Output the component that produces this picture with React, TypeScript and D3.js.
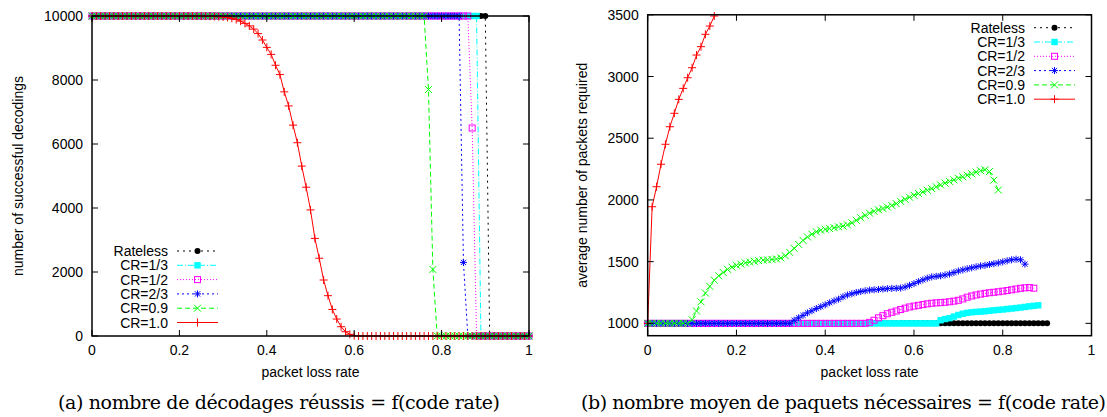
import React from 'react';
import * as d3 from 'd3';

// ---------- categories ----------
const lossRate = [
  0, 0.01, 0.02, 0.03, 0.04, 0.05, 0.06, 0.07, 0.08, 0.09,
  0.1, 0.11, 0.12, 0.13, 0.14, 0.15, 0.16, 0.17, 0.18, 0.19,
  0.2, 0.21, 0.22, 0.23, 0.24, 0.25, 0.26, 0.27, 0.28, 0.29,
  0.3, 0.31, 0.32, 0.33, 0.34, 0.35, 0.36, 0.37, 0.38, 0.39,
  0.4, 0.41, 0.42, 0.43, 0.44, 0.45, 0.46, 0.47, 0.48, 0.49,
  0.5, 0.51, 0.52, 0.53, 0.54, 0.55, 0.56, 0.57, 0.58, 0.59,
  0.6, 0.61, 0.62, 0.63, 0.64, 0.65, 0.66, 0.67, 0.68, 0.69,
  0.7, 0.71, 0.72, 0.73, 0.74, 0.75, 0.76, 0.77, 0.78, 0.79,
  0.8, 0.81, 0.82, 0.83, 0.84, 0.85, 0.86, 0.87, 0.88, 0.89,
  0.9, 0.91, 0.92, 0.93, 0.94, 0.95, 0.96, 0.97, 0.98, 0.99,
  1.0,
];

const seriesNames = ['Rateless', 'CR=1/3', 'CR=1/2', 'CR=2/3', 'CR=0.9', 'CR=1.0'];
const seriesColors = ['#000000', '#00ffff', '#ff00ff', '#0000ff', '#00ff00', '#ff0000'];
const seriesDash = ['2,4', '6,2,1,2', '1,2', '2,3', '5,3', ''];
const seriesMarker = ['circle', 'fsquare', 'osquare', 'star', 'x', 'plus'];

// ---------- (a) number of successful decodings ----------
const decRateless = [
  10000, 10000, 10000, 10000, 10000, 10000, 10000, 10000, 10000, 10000,
  10000, 10000, 10000, 10000, 10000, 10000, 10000, 10000, 10000, 10000,
  10000, 10000, 10000, 10000, 10000, 10000, 10000, 10000, 10000, 10000,
  10000, 10000, 10000, 10000, 10000, 10000, 10000, 10000, 10000, 10000,
  10000, 10000, 10000, 10000, 10000, 10000, 10000, 10000, 10000, 10000,
  10000, 10000, 10000, 10000, 10000, 10000, 10000, 10000, 10000, 10000,
  10000, 10000, 10000, 10000, 10000, 10000, 10000, 10000, 10000, 10000,
  10000, 10000, 10000, 10000, 10000, 10000, 10000, 10000, 10000, 10000,
  10000, 10000, 10000, 10000, 10000, 10000, 10000, 10000, 10000, 10000,
  10000, 0, 0, 0, 0, 0, 0, 0, 0, 0,
  0,
];
const decCR13 = [
  10000, 10000, 10000, 10000, 10000, 10000, 10000, 10000, 10000, 10000,
  10000, 10000, 10000, 10000, 10000, 10000, 10000, 10000, 10000, 10000,
  10000, 10000, 10000, 10000, 10000, 10000, 10000, 10000, 10000, 10000,
  10000, 10000, 10000, 10000, 10000, 10000, 10000, 10000, 10000, 10000,
  10000, 10000, 10000, 10000, 10000, 10000, 10000, 10000, 10000, 10000,
  10000, 10000, 10000, 10000, 10000, 10000, 10000, 10000, 10000, 10000,
  10000, 10000, 10000, 10000, 10000, 10000, 10000, 10000, 10000, 10000,
  10000, 10000, 10000, 10000, 10000, 10000, 10000, 10000, 10000, 10000,
  10000, 10000, 10000, 10000, 10000, 10000, 10000, 10000, 10000, 0,
  0, 0, 0, 0, 0, 0, 0, 0, 0, 0,
  0,
];
const decCR12 = [
  10000, 10000, 10000, 10000, 10000, 10000, 10000, 10000, 10000, 10000,
  10000, 10000, 10000, 10000, 10000, 10000, 10000, 10000, 10000, 10000,
  10000, 10000, 10000, 10000, 10000, 10000, 10000, 10000, 10000, 10000,
  10000, 10000, 10000, 10000, 10000, 10000, 10000, 10000, 10000, 10000,
  10000, 10000, 10000, 10000, 10000, 10000, 10000, 10000, 10000, 10000,
  10000, 10000, 10000, 10000, 10000, 10000, 10000, 10000, 10000, 10000,
  10000, 10000, 10000, 10000, 10000, 10000, 10000, 10000, 10000, 10000,
  10000, 10000, 10000, 10000, 10000, 10000, 10000, 10000, 10000, 10000,
  10000, 10000, 10000, 10000, 10000, 10000, 10000, 6500, 0, 0,
  0, 0, 0, 0, 0, 0, 0, 0, 0, 0,
  0,
];
const decCR23 = [
  10000, 10000, 10000, 10000, 10000, 10000, 10000, 10000, 10000, 10000,
  10000, 10000, 10000, 10000, 10000, 10000, 10000, 10000, 10000, 10000,
  10000, 10000, 10000, 10000, 10000, 10000, 10000, 10000, 10000, 10000,
  10000, 10000, 10000, 10000, 10000, 10000, 10000, 10000, 10000, 10000,
  10000, 10000, 10000, 10000, 10000, 10000, 10000, 10000, 10000, 10000,
  10000, 10000, 10000, 10000, 10000, 10000, 10000, 10000, 10000, 10000,
  10000, 10000, 10000, 10000, 10000, 10000, 10000, 10000, 10000, 10000,
  10000, 10000, 10000, 10000, 10000, 10000, 10000, 10000, 10000, 10000,
  10000, 10000, 10000, 10000, 10000, 2300, 0, 0, 0, 0,
  0, 0, 0, 0, 0, 0, 0, 0, 0, 0,
  0,
];
const decCR09 = [
  10000, 10000, 10000, 10000, 10000, 10000, 10000, 10000, 10000, 10000,
  10000, 10000, 10000, 10000, 10000, 10000, 10000, 10000, 10000, 10000,
  10000, 10000, 10000, 10000, 10000, 10000, 10000, 10000, 10000, 10000,
  10000, 10000, 10000, 10000, 10000, 10000, 10000, 10000, 10000, 10000,
  10000, 10000, 10000, 10000, 10000, 10000, 10000, 10000, 10000, 10000,
  10000, 10000, 10000, 10000, 10000, 10000, 10000, 10000, 10000, 10000,
  10000, 10000, 10000, 10000, 10000, 10000, 10000, 10000, 10000, 10000,
  10000, 10000, 10000, 10000, 10000, 10000, 10000, 7700, 2080, 0,
  0, 0, 0, 0, 0, 0, 0, 0, 0, 0,
  0, 0, 0, 0, 0, 0, 0, 0, 0, 0,
  0,
];
const decCR10 = [
  10000, 10000, 10000, 10000, 10000, 10000, 10000, 10000, 10000, 10000,
  10000, 10000, 10000, 10000, 10000, 10000, 10000, 10000, 10000, 10000,
  10000, 10000, 10000, 10000, 10000, 9998, 9996, 9993, 9988, 9980,
  9970, 9955, 9930, 9890, 9840, 9770, 9690, 9590, 9450, 9250,
  9020, 8800, 8460, 8170, 7630, 7190, 6590, 6040, 5310, 4650,
  3940, 3050, 2430, 1750, 1260, 830, 530, 290, 134, 53,
  12, 0, 0, 0, 0, 0, 0, 0, 0, 0,
  0, 0, 0, 0, 0, 0, 0, 0, 0, 0,
  0, 0, 0, 0, 0, 0, 0, 0, 0, 0,
  0, 0, 0, 0, 0, 0, 0, 0, 0, 0,
  0,
];

// ---------- (b) average number of packets required ----------
const pktRateless = [
  1000, 1000, 1000, 1000, 1000, 1000, 1000, 1000, 1000, 1000,
  1000, 1000, 1000, 1000, 1000, 1000, 1000, 1000, 1000, 1000,
  1000, 1000, 1000, 1000, 1000, 1000, 1000, 1000, 1000, 1000,
  1000, 1000, 1000, 1000, 1000, 1000, 1000, 1000, 1000, 1000,
  1000, 1000, 1000, 1000, 1000, 1000, 1000, 1000, 1000, 1000,
  1000, 1000, 1000, 1000, 1000, 1000, 1000, 1000, 1000, 1000,
  1000, 1000, 1000, 1000, 1000, 1000, 1000, 1000, 1000, 1000,
  1000, 1000, 1000, 1000, 1000, 1000, 1000, 1000, 1000, 1000,
  1000, 1000, 1000, 1000, 1000, 1000, 1000, 1000, 1000, 1000,
  1000,
];
const pktCR13 = [
  1000, 1000, 1000, 1000, 1000, 1000, 1000, 1000, 1000, 1000,
  1000, 1000, 1000, 1000, 1000, 1000, 1000, 1000, 1000, 1000,
  1000, 1000, 1000, 1000, 1000, 1000, 1000, 1000, 1000, 1000,
  1000, 1000, 1000, 1000, 1000, 1000, 1000, 1000, 1000, 1000,
  1000, 1000, 1000, 1000, 1000, 1000, 1000, 1000, 1000, 1000,
  1000, 1000, 1000, 1000, 1000, 1000, 1000, 1000, 1000, 1000,
  1000, 1000, 1000, 1000, 1000, 1000, 1025, 1035, 1042, 1055,
  1068, 1078, 1085, 1090, 1093, 1095, 1098, 1102, 1106, 1109,
  1112, 1116, 1120, 1124, 1128, 1133, 1138, 1142, 1146,
];
const pktCR12 = [
  1000, 1000, 1000, 1000, 1000, 1000, 1000, 1000, 1000, 1000,
  1000, 1000, 1000, 1000, 1000, 1000, 1000, 1000, 1000, 1000,
  1000, 1000, 1000, 1000, 1000, 1000, 1000, 1000, 1000, 1000,
  1000, 1000, 1000, 1000, 1000, 1000, 1000, 1000, 1000, 1000,
  1000, 1000, 1000, 1000, 1000, 1000, 1000, 1000, 1000, 1000,
  1008, 1025, 1045, 1062, 1078, 1090, 1100, 1112, 1123, 1133,
  1140, 1146, 1152, 1158, 1163, 1166, 1168, 1171, 1175, 1180,
  1187, 1198, 1212, 1222, 1230, 1237, 1243, 1248, 1252, 1256,
  1261, 1266, 1272, 1278, 1284, 1288, 1290, 1285,
];
const pktCR23 = [
  1000, 1000, 1000, 1000, 1000, 1000, 1000, 1000, 1000, 1000,
  1000, 1000, 1000, 1000, 1000, 1000, 1000, 1000, 1000, 1000,
  1000, 1000, 1000, 1000, 1000, 1000, 1000, 1000, 1000, 1000,
  1000, 1000, 1000, 1025, 1045, 1065, 1085, 1102, 1120, 1135,
  1150, 1167, 1182, 1196, 1215, 1230, 1240, 1250, 1258, 1264,
  1270, 1272, 1275, 1278, 1281, 1283, 1284, 1286, 1295, 1308,
  1322, 1338, 1352, 1366, 1376, 1381, 1385, 1392, 1400, 1412,
  1424, 1433, 1442, 1450, 1458, 1465, 1470, 1477, 1483, 1490,
  1498, 1507, 1515, 1520, 1515, 1480,
];
const pktCR09 = [
  1000, 1000, 1000, 1000, 1000, 1000, 1000, 1000, 1000, 1000,
  1030, 1100, 1175, 1245, 1300, 1350, 1385, 1412, 1437, 1455,
  1470, 1480, 1490, 1497, 1503, 1508, 1512, 1515, 1518, 1522,
  1530, 1548, 1575, 1608, 1640, 1672, 1700, 1722, 1742, 1755,
  1762, 1768, 1775, 1782, 1788, 1798, 1815, 1835, 1855, 1875,
  1893, 1908, 1920, 1930, 1942, 1955, 1970, 1988, 2005, 2022,
  2038, 2052, 2065, 2078, 2092, 2107, 2122, 2136, 2150, 2163,
  2176, 2188, 2200, 2212, 2225, 2237, 2245, 2230, 2160, 2080,
];
const pktCR10 = [
  1000, 1945, 2107, 2289, 2451, 2593, 2702, 2815, 2904, 2990,
  3071, 3174, 3242, 3342, 3409, 3490, 3570,
];

const xTicks = [0, 0.2, 0.4, 0.6, 0.8, 1];
const yTicksA = [0, 2000, 4000, 6000, 8000, 10000];
const yTicksB = [1000, 1500, 2000, 2500, 3000, 3500];

const FONT = '"Liberation Sans", Arial, Helvetica, sans-serif';

function Marker({ type, x, y, color }: { type: string; x: number; y: number; color: string }) {
  switch (type) {
    case 'circle':
      return <circle cx={x} cy={y} r={3} fill={color} />;
    case 'fsquare':
      return <rect x={x - 3.2} y={y - 3.2} width={6.4} height={6.4} fill={color} />;
    case 'osquare':
      return <rect x={x - 3} y={y - 3} width={6} height={6} fill="none" stroke={color} strokeWidth={1} />;
    case 'star':
      return (
        <path
          d={`M${x - 3.5},${y}h7M${x},${y - 3.5}v7M${x - 2.6},${y - 2.6}l5.2,5.2M${x - 2.6},${y + 2.6}l5.2,-5.2`}
          stroke={color}
          strokeWidth={1}
        />
      );
    case 'x':
      return <path d={`M${x - 3.5},${y - 3.5}l7,7M${x - 3.5},${y + 3.5}l7,-7`} stroke={color} strokeWidth={1} />;
    default:
      return <path d={`M${x - 4},${y}h8M${x},${y - 4}v8`} stroke={color} strokeWidth={1} />;
  }
}

type PanelProps = {
  id: string;
  x: d3.ScaleLinear<number, number>;
  y: d3.ScaleLinear<number, number>;
  series: number[][];
  yTicks: number[];
  yLabel: string;
  yLabelX: number;
  legendX: number;
  legendY: number;
  caption: string;
  captionX: number;
  captionLen: number;
};

function Panel(p: PanelProps) {
  const [x0, x1] = p.x.range();
  const [y0, y1] = p.y.range(); // y0 bottom, y1 top
  const [dMin, dMax] = p.y.domain();
  const tick = 6;
  return (
    <g>
      <defs>
        <clipPath id={p.id}>
          <rect x={x0} y={y1} width={x1 - x0} height={y0 - y1} />
        </clipPath>
      </defs>
      {/* series */}
      {p.series.map((vals, si) => {
        const pts = vals.map((v, i) => [lossRate[i], v] as [number, number]);
        const line = d3
          .line<[number, number]>()
          .x((d) => p.x(d[0]))
          .y((d) => p.y(d[1]));
        return (
          <g key={si}>
            <path
              d={line(pts) || ''}
              fill="none"
              stroke={seriesColors[si]}
              strokeWidth={1}
              strokeDasharray={seriesDash[si] || undefined}
              clipPath={`url(#${p.id})`}
            />
            {pts
              .filter((d) => d[1] >= dMin && d[1] <= dMax)
              .map((d, i) => (
                <Marker key={i} type={seriesMarker[si]} x={p.x(d[0])} y={p.y(d[1])} color={seriesColors[si]} />
              ))}
          </g>
        );
      })}
      {/* border */}
      <rect x={x0} y={y1} width={x1 - x0} height={y0 - y1} fill="none" stroke="#000" strokeWidth={1.5} />
      {/* ticks */}
      {xTicks.map((t) => {
        const px = p.x(t);
        return (
          <g key={'x' + t}>
            <line x1={px} x2={px} y1={y0} y2={y0 - tick} stroke="#000" />
            <line x1={px} x2={px} y1={y1} y2={y1 + tick} stroke="#000" />
            <text x={px} y={y0 + 19} textAnchor="middle" fontFamily={FONT} fontSize={14}>
              {String(t)}
            </text>
          </g>
        );
      })}
      {p.yTicks.map((t) => {
        const py = p.y(t);
        return (
          <g key={'y' + t}>
            <line x1={x0} x2={x0 + tick} y1={py} y2={py} stroke="#000" />
            <line x1={x1} x2={x1 - tick} y1={py} y2={py} stroke="#000" />
            <text x={x0 - 9} y={py} dy="0.36em" textAnchor="end" fontFamily={FONT} fontSize={14}>
              {String(t)}
            </text>
          </g>
        );
      })}
      {/* axis labels */}
      <text x={(x0 + x1) / 2} y={y0 + 41} textAnchor="middle" fontFamily={FONT} fontSize={14}>
        packet loss rate
      </text>
      <text
        transform={`translate(${p.yLabelX},${(y0 + y1) / 2}) rotate(-90)`}
        textAnchor="middle"
        dy="0.36em"
        fontFamily={FONT}
        fontSize={14}
      >
        {p.yLabel}
      </text>
      {/* legend */}
      {seriesNames.map((name, si) => {
        const ly = p.legendY + si * 14.3;
        return (
          <g key={name}>
            <text x={p.legendX} y={ly} dy="0.36em" textAnchor="end" fontFamily={FONT} fontSize={14}>
              {name}
            </text>
            <line
              x1={p.legendX + 9}
              x2={p.legendX + 50}
              y1={ly}
              y2={ly}
              stroke={seriesColors[si]}
              strokeWidth={1}
              strokeDasharray={seriesDash[si] || undefined}
            />
            <Marker type={seriesMarker[si]} x={p.legendX + 29.5} y={ly} color={seriesColors[si]} />
          </g>
        );
      })}
      {/* caption */}
      <text
        x={p.captionX}
        y={409}
        textAnchor="middle"
        fontFamily='"DejaVu Serif", serif'
        fontSize={19}
        textLength={p.captionLen}
        lengthAdjust="spacing"
      >
        {p.caption}
      </text>
    </g>
  );
}

export default function App() {
  const xA = d3.scaleLinear().domain([0, 1]).range([92, 529]);
  const yA = d3.scaleLinear().domain([0, 10000]).range([336, 16]);
  const xB = d3.scaleLinear().domain([0, 1]).range([647.7, 1091.5]);
  const yB = d3.scaleLinear().domain([900, 3500]).range([335.7, 14.8]);
  return (
    <svg
      width={1107}
      height={417}
      style={{ position: 'absolute', left: 0, top: 0, background: '#fff' }}
    >
      <rect width={1107} height={417} fill="#fff" />
      <Panel
        id="clipA"
        x={xA}
        y={yA}
        series={[decRateless, decCR13, decCR12, decCR23, decCR09, decCR10]}
        yTicks={yTicksA}
        yLabel="number of successful decodings"
        yLabelX={18}
        legendX={168}
        legendY={251}
        caption="(a) nombre de décodages réussis = f(code rate)"
        captionX={279}
        captionLen={442}
      />
      <Panel
        id="clipB"
        x={xB}
        y={yB}
        series={[pktRateless, pktCR13, pktCR12, pktCR23, pktCR09, pktCR10]}
        yTicks={yTicksB}
        yLabel="average number of packets required"
        yLabelX={582}
        legendX={1025}
        legendY={27.7}
        caption="(b) nombre moyen de paquets nécessaires = f(code rate)"
        captionX={843.5}
        captionLen={525}
      />
    </svg>
  );
}
